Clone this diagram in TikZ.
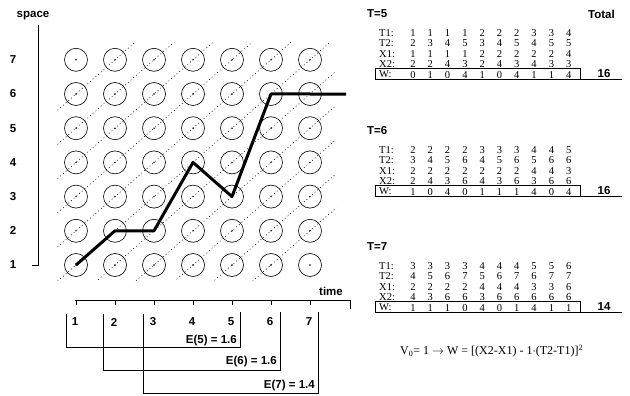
\documentclass[tikz,border=0pt]{standalone}
\usepackage{fontspec}
\setmainfont{Liberation Serif}
\setsansfont{Liberation Sans}
\usetikzlibrary{positioning, calc}
\tikzset{
  cell/.style = {circle, draw, line width=0.6pt, minimum size=23pt, inner sep=0pt},
  walk/.style = {line width=3pt, line join=round},
  diag/.style = {dash pattern=on 1pt off 2.6pt, line width=0.5pt},
  axis/.style = {line width=0.6pt},
  lbl/.style  = {font=\sffamily\bfseries\fontsize{11.5}{13}\selectfont, inner sep=1pt},
  tbl/.style  = {font=\fontsize{10.5}{12}\selectfont, inner sep=0pt},
}

\begin{document}
\begin{tikzpicture}[x=1pt, y=-1pt]
  \useasboundingbox (0,0) rectangle (630,396);

  % lattice of states
  \foreach \t in {1,...,7}
    \foreach \s in {1,...,7} {
      \node[cell] (c\t\s) at ({76+39*(\t-1)},{265-34.2*(\s-1)}) {};
      \fill (c\t\s.center) circle (0.8pt);
    }
  \begin{scope}
    \clip (56,43) rectangle (336,280);
    \foreach \c in {-5,...,5}
      \draw[diag] ({76+39*(-2)},{265-34.2*(-2-\c)}) -- ({76+39*8},{265-34.2*(8-\c)});
  \end{scope}

  % trajectory
  \coordinate (wend) at (346,94.2);
  \draw[walk] (c11.center) -- (c22.center) -- (c32.center) -- (c44.center)
    -- (c53.center) -- (c66.center) -- (c76.center) -- (wend);

  % space axis
  \coordinate (ytop) at (38,25);
  \coordinate (ybot) at (38,265);
  \draw[axis] (ytop) -- (ybot) -- ++(-6,0);
  \foreach \s in {1,...,7}
    \node[lbl] (y\s) at (13,{265-34.2*(\s-1)}) {\s};
  \node[lbl] (space) at (33,16) {space};

  % time axis
  \coordinate (tleft) at (75,300);
  \coordinate (tright) at (350,300);
  \draw[axis] (tleft) -- (tright) -- ++(0,9);
  \foreach \t in {1,...,7} {
    \draw[axis] ({76+39*(\t-1)},300) -- ++(0,5);
    \node[lbl] (n\t) at ({75+39*(\t-1)},322) {\t};
  }
  \node[lbl] (time) at (331,291) {time};

  % windows
  \draw[thin] (66,314) |- (240,347) -- (240,312);
  \draw[thin] (103,314) |- (280,370) -- (280,312);
  \draw[thin] (143,314) |- (318,393) -- (318,312);
  \node[lbl, anchor=east] (e5) at (238,341) {E(5) = 1.6};
  \node[lbl, anchor=east] (e6) at (278,362) {E(6) = 1.6};
  \node[lbl, anchor=east] (e7) at (316,386) {E(7) = 1.4};

  % tables
  \node[lbl, anchor=west] (total) at (587,14) {Total};

  \node[lbl, anchor=west] (tt5) at (366,14) {T=5};
  \foreach \lab/\vals [count=\r] in {T1:/{1,1,1,1,2,2,2,3,3,4}, T2:/{2,3,4,5,3,4,5,4,5,5},
      X1:/{1,1,1,1,2,2,2,2,2,4}, X2:/{2,2,4,3,2,4,3,4,3,3}, W:/{0,1,0,4,1,0,4,1,1,4}} {
    \node[tbl, anchor=west] (a5\r) at (379,{33+10.4*(\r-1)}) {\lab};
    \foreach \v [count=\k] in \vals
      \node[tbl] (a5\r-\k) at ({413+17.3*(\k-1)},{33+10.4*(\r-1)}) {\v};
  }
  \draw[thin] (375,68.5) rectangle (580,79.5) -- (622,79.5);
  \node[lbl] (tot5) at (604,73.5) {16};

  \node[lbl, anchor=west] (tt6) at (366,131) {T=6};
  \foreach \lab/\vals [count=\r] in {T1:/{2,2,2,2,3,3,3,4,4,5}, T2:/{3,4,5,6,4,5,6,5,6,6},
      X1:/{2,2,2,2,2,2,2,4,4,3}, X2:/{2,4,3,6,4,3,6,3,6,6}, W:/{1,0,4,0,1,1,1,4,0,4}} {
    \node[tbl, anchor=west] (a6\r) at (379,{150+10.4*(\r-1)}) {\lab};
    \foreach \v [count=\k] in \vals
      \node[tbl] (a6\r-\k) at ({413+17.3*(\k-1)},{150+10.4*(\r-1)}) {\v};
  }
  \draw[thin] (375,185.5) rectangle (580,196.5) -- (622,196.5);
  \node[lbl] (tot6) at (604,190.5) {16};

  \node[lbl, anchor=west] (tt7) at (366,247) {T=7};
  \foreach \lab/\vals [count=\r] in {T1:/{3,3,3,3,4,4,4,5,5,6}, T2:/{4,5,6,7,5,6,7,6,7,7},
      X1:/{2,2,2,2,4,4,4,3,3,6}, X2:/{4,3,6,6,3,6,6,6,6,6}, W:/{1,1,1,0,4,0,1,4,1,1}} {
    \node[tbl, anchor=west] (a7\r) at (379,{266+10.4*(\r-1)}) {\lab};
    \foreach \v [count=\k] in \vals
      \node[tbl] (a7\r-\k) at ({413+17.3*(\k-1)},{266+10.4*(\r-1)}) {\v};
  }
  \draw[thin] (375,301.5) rectangle (580,312.5) -- (622,312.5);
  \node[lbl] (tot7) at (604,306.5) {14};

  \node[tbl, anchor=west, font=\fontsize{12}{14}\selectfont] (vform) at (400,351)
    {V\textsubscript{0}= 1 $\rightarrow$ W = [(X2-X1) - 1$\cdot$(T2-T1)]\textsuperscript{2}};
\end{tikzpicture}
\end{document}
